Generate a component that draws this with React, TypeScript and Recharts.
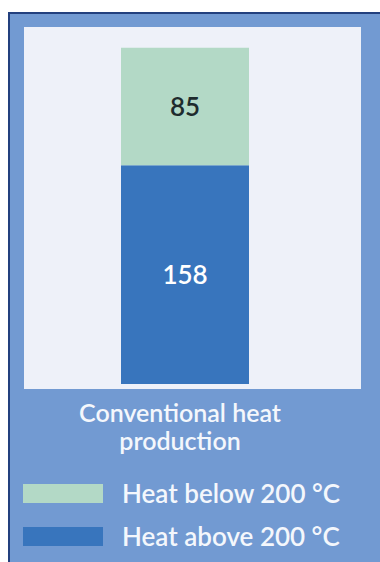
import React from 'react';
import { BarChart, Bar, XAxis, YAxis, CartesianGrid, LabelList, Legend } from 'recharts';

// One stacked column: heat demand split by temperature level
const categories = ['Conventional heat production'];
const heatAbove200 = [158];
const heatBelow200 = [85];

const seriesAbove = { key: 'above', name: 'Heat above 200 °C', color: '#3875BD', labelColor: '#FFFFFF' };
const seriesBelow = { key: 'below', name: 'Heat below 200 °C', color: '#B3D9C6', labelColor: '#1E2B2D' };

// Legend lists the upper segment first
const legendOrder = [seriesBelow, seriesAbove];

const data = categories.map((name, i) => ({
  name,
  above: heatAbove200[i],
  below: heatBelow200[i],
}));

const FONT = 'Lato, "Open Sans", sans-serif';
const PANEL_BLUE = '#729AD2';
const PLOT_BG = '#EEF1F9';
const TEXT_LIGHT = '#F4F7FC';

const W = 372;
const H = 550;

// Category label broken onto two centred lines
const CategoryTick = (props: any) => {
  const { x, y, payload } = props;
  const words = String(payload.value).split(' ');
  const lines = [words.slice(0, 2).join(' '), words.slice(2).join(' ')];
  return (
    <text
      x={x - 5}
      y={y + 33}
      textAnchor="middle"
      fill={TEXT_LIGHT}
      fontSize={25}
      fontWeight={600}
      fontFamily={FONT}
    >
      {lines.map((line, i) => (
        <tspan key={i} x={x - 5} dy={i === 0 ? 0 : 28}>
          {line}
        </tspan>
      ))}
    </text>
  );
};

const LegendContent = () => (
  <div style={{ position: 'relative', height: 103, width: W }}>
    {legendOrder.map((s, i) => (
      <div
        key={s.key}
        style={{ position: 'absolute', left: 15, top: 25 + i * 43, display: 'flex', alignItems: 'center' }}
      >
        <div style={{ width: 80, height: 19, background: s.color }} />
        <span
          style={{
            marginLeft: 19,
            color: TEXT_LIGHT,
            fontFamily: FONT,
            fontSize: 26,
            fontWeight: 600,
            lineHeight: '19px',
            whiteSpace: 'nowrap',
          }}
        >
          {s.name}
        </span>
      </div>
    ))}
  </div>
);

export default function App() {
  return (
    <div
      style={{
        position: 'fixed',
        left: 8,
        top: 12,
        width: W,
        height: H,
        background: PANEL_BLUE,
        boxShadow: 'inset 2px 2px 0 #23407E',
        overflow: 'hidden',
      }}
    >
      <BarChart
        width={W}
        height={H}
        data={data}
        margin={{ top: 15, right: 19, left: 16, bottom: 0 }}
      >
        <CartesianGrid fill={PLOT_BG} stroke="none" />
        <XAxis
          dataKey="name"
          axisLine={false}
          tickLine={false}
          tickSize={0}
          tickMargin={0}
          height={70}
          padding={{ left: 0, right: 15 }}
          tick={<CategoryTick />}
          interval={0}
        />
        <YAxis hide domain={[0, 258]} padding={{ top: 0, bottom: 5 }} />
        <Legend
          verticalAlign="bottom"
          height={103}
          content={<LegendContent />}
          wrapperStyle={{ left: 0, width: W }}
        />
        <Bar
          dataKey={seriesAbove.key}
          name={seriesAbove.name}
          stackId="heat"
          fill={seriesAbove.color}
          barSize={128}
          isAnimationActive={false}
        >
          <LabelList
            dataKey={seriesAbove.key}
            position="center"
            fill={seriesAbove.labelColor}
            fontSize={26}
            fontWeight={600}
            fontFamily={FONT}
          />
        </Bar>
        <Bar
          dataKey={seriesBelow.key}
          name={seriesBelow.name}
          stackId="heat"
          fill={seriesBelow.color}
          barSize={128}
          isAnimationActive={false}
        >
          <LabelList
            dataKey={seriesBelow.key}
            position="center"
            fill={seriesBelow.labelColor}
            fontSize={26}
            fontWeight={600}
            fontFamily={FONT}
          />
        </Bar>
      </BarChart>
    </div>
  );
}
